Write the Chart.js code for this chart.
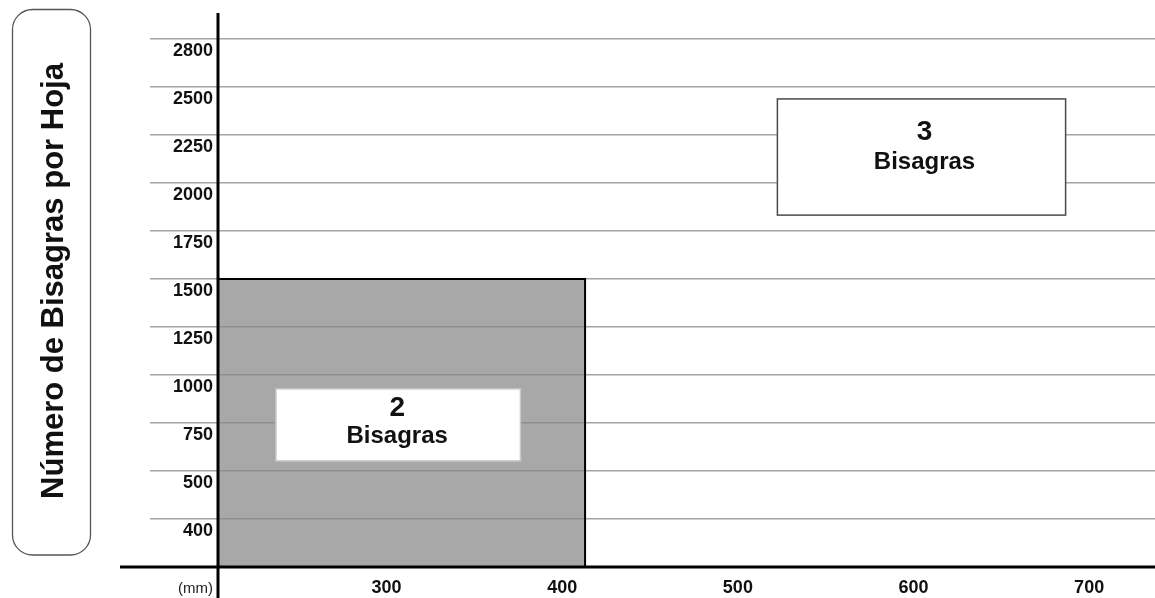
<!DOCTYPE html>
<html><head><meta charset="utf-8">
<script src="https://cdn.jsdelivr.net/npm/chart.js@4.4.1/dist/chart.umd.min.js"></script>
<style>html,body{margin:0;padding:0;background:#fff;overflow:hidden}#wrap{width:1155px;height:598px;position:relative}</style>
</head><body><div id="wrap"><canvas id="c" width="1155" height="598"></canvas></div>
<script>
// ---- data ----
const yTickLabels = ['400','500','750','1000','1250','1500','1750','2000','2250','2500','2800'];
const xTickValues = [300, 400, 500, 600, 700];
const xUnitLabel = '(mm)';
const yAxisTitle = 'Número de Bisagras por Hoja';
const twoHingeMaxWidth = 413;
const twoHingeMaxHeight = 1500;
const zoneNumbers = ['2', '3'];
const zoneWord = 'Bisagras';

// ---- scale ranges ----
const X_MIN = 204, X_MAX = 737.5;
const Y_MAX = 11.54;
function heightPos(h){ return yTickLabels.indexOf(String(h)) + 1; }

const FONT = '"Liberation Sans", Arial, Helvetica, sans-serif';

const zoneBoxes = [
  {xMin: 237, xMax: 376.2, yMin: 2.21, yMax: 3.71, border: '#c8c8c8', dx: -1, numBase: 27.4, wordBase: 54},
  {xMin: 522.5, xMax: 686.6, yMin: 7.33, yMax: 9.75, border: '#4a4a4a', dx: 3, numBase: 41.5, wordBase: 70}
];

const decor = {
  id: 'decor',
  afterDraw(chart){
    const ctx = chart.ctx, ca = chart.chartArea, xs = chart.scales.x, ys = chart.scales.y;
    ctx.save();
    // zone labels
    zoneBoxes.forEach((b, i) => {
      const l = xs.getPixelForValue(b.xMin), r = xs.getPixelForValue(b.xMax);
      const t = ys.getPixelForValue(b.yMax), bt = ys.getPixelForValue(b.yMin);
      ctx.fillStyle = '#fff';
      ctx.fillRect(l, t, r - l, bt - t);
      ctx.strokeStyle = b.border; ctx.lineWidth = 1.5;
      ctx.strokeRect(l, t, r - l, bt - t);
      const cx = (l + r) / 2 + b.dx;
      ctx.fillStyle = '#111'; ctx.textAlign = 'center'; ctx.textBaseline = 'alphabetic';
      ctx.font = 'bold 28px ' + FONT;
      ctx.fillText(zoneNumbers[i], cx, t + b.numBase);
      ctx.font = 'bold 24px ' + FONT;
      ctx.fillText(zoneWord, cx, t + b.wordBase);
    });
    // axes
    ctx.strokeStyle = '#000'; ctx.lineWidth = 3;
    ctx.beginPath();
    ctx.moveTo(ca.left, ca.top); ctx.lineTo(ca.left, chart.height);
    ctx.moveTo(ca.left - 98, ca.bottom); ctx.lineTo(ca.right, ca.bottom);
    ctx.stroke();
    // unit label
    ctx.fillStyle = '#222'; ctx.font = '15px ' + FONT; ctx.textAlign = 'right'; ctx.textBaseline = 'alphabetic';
    ctx.fillText(xUnitLabel, ca.left - 5, ca.bottom + 26);
    // title box
    const bx = 12.5, by = 9.5, bw = 78, bh = 545.5, rr = 20;
    ctx.strokeStyle = '#555'; ctx.lineWidth = 1.3;
    ctx.beginPath();
    ctx.moveTo(bx + rr, by); ctx.lineTo(bx + bw - rr, by); ctx.arcTo(bx + bw, by, bx + bw, by + rr, rr);
    ctx.lineTo(bx + bw, by + bh - rr); ctx.arcTo(bx + bw, by + bh, bx + bw - rr, by + bh, rr);
    ctx.lineTo(bx + rr, by + bh); ctx.arcTo(bx, by + bh, bx, by + bh - rr, rr);
    ctx.lineTo(bx, by + rr); ctx.arcTo(bx, by, bx + rr, by, rr);
    ctx.closePath(); ctx.stroke();
    ctx.translate(63, 281); ctx.rotate(-Math.PI / 2);
    ctx.fillStyle = '#111'; ctx.font = 'bold 31px ' + FONT; ctx.textAlign = 'center'; ctx.textBaseline = 'alphabetic';
    ctx.fillText(yAxisTitle, 0, 0);
    ctx.restore();
  }
};

new Chart(document.getElementById('c'), {
  type: 'scatter',
  data: {
    datasets: [{
      data: [
        {x: X_MIN, y: heightPos(twoHingeMaxHeight)},
        {x: twoHingeMaxWidth, y: heightPos(twoHingeMaxHeight)},
        {x: twoHingeMaxWidth, y: 0}
      ],
      showLine: true,
      fill: 'origin',
      backgroundColor: 'rgba(133,133,133,0.71)',
      borderColor: '#000',
      borderWidth: 2,
      pointRadius: 0,
      tension: 0
    }]
  },
  options: {
    responsive: false,
    animation: false,
    devicePixelRatio: 1,
    events: [],
    layout: {padding: {top: 13, left: 0, right: 0, bottom: 0}},
    plugins: {legend: {display: false}, tooltip: {enabled: false}},
    scales: {
      x: {
        type: 'linear', position: 'bottom', min: X_MIN, max: X_MAX,
        grid: {display: false}, border: {display: false},
        ticks: {font: {family: FONT, size: 18, weight: 'bold'}, color: '#111', padding: 2, maxRotation: 0, autoSkip: false},
        afterBuildTicks: s => { s.ticks = xTickValues.map(v => ({value: v})); },
        afterFit: s => { s.height = 31; }
      },
      y: {
        type: 'linear', position: 'left', min: 0, max: Y_MAX,
        grid: {color: '#a6a6a6', lineWidth: 1.5, drawTicks: true, tickLength: 68, tickColor: '#a6a6a6'},
        border: {display: false},
        ticks: {
          font: {family: FONT, size: 18, weight: 'bold'}, color: '#111',
          padding: -63, labelOffset: 12, autoSkip: false,
          callback: v => (v >= 1 ? yTickLabels[v - 1] : '')
        },
        afterBuildTicks: s => { s.ticks = [{value: 0}].concat(yTickLabels.map((_, i) => ({value: i + 1}))); },
        afterFit: s => { s.width = 218; }
      }
    }
  },
  plugins: [decor]
});
</script>
</body></html>
